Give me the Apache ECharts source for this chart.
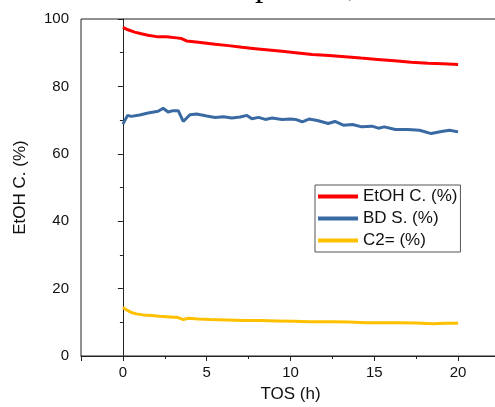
<!DOCTYPE html>
<html>
<head>
<meta charset="utf-8">
<script src="https://cdn.jsdelivr.net/npm/echarts@6/dist/echarts.min.js"></script>
<style>
  html, body { margin: 0; padding: 0; background: #fff; }
  #chart { width: 495px; height: 407px; }
</style>
</head>
<body>
<div id="chart"></div>
<script>
// time on stream (h) and values (%)
const etohTime = [0, 0.3, 0.7, 1.1, 1.5, 2.1, 2.6, 3.2, 3.5, 3.8, 4.5, 5.5, 6.3, 7.1, 7.9, 8.7, 9.5, 10.3, 11.3, 12.3, 13.25, 14.2, 15.2, 16.2, 17.2, 18.2, 19.1, 20]
const etohConv = [97.5, 96.8, 96.1, 95.6, 95.2, 94.7, 94.7, 94.4, 94.2, 93.5, 93.1, 92.5, 92.1, 91.6, 91.2, 90.8, 90.4, 90.0, 89.5, 89.2, 88.8, 88.4, 88.0, 87.6, 87.2, 86.9, 86.7, 86.5]

const bdTime = [0, 0.28, 0.5, 1.0, 1.5, 2.1, 2.4, 2.7, 3.0, 3.3, 3.6, 4.0, 4.4, 5.0, 5.5, 6.0, 6.5, 7.0, 7.4, 7.7, 8.1, 8.5, 8.9, 9.5, 10.0, 10.3, 10.7, 11.1, 11.6, 12.25, 12.65, 13.15, 13.7, 14.25, 14.85, 15.25, 15.6, 16.25, 17.0, 17.7, 18.4, 19.0, 19.5, 20]
const bdSel = [68.8, 71.4, 71.1, 71.5, 72.1, 72.6, 73.5, 72.4, 72.8, 72.8, 69.6, 71.6, 71.8, 71.2, 70.8, 71.0, 70.6, 70.9, 71.4, 70.4, 70.8, 70.2, 70.6, 70.2, 70.3, 70.2, 69.5, 70.3, 69.9, 69.0, 69.6, 68.5, 68.7, 68.0, 68.2, 67.6, 68.0, 67.2, 67.2, 67.0, 66.0, 66.6, 67.0, 66.5]

const c2Time = [0, 0.25, 0.5, 0.8, 1.2, 1.7, 2.2, 2.8, 3.3, 3.6, 3.9, 4.5, 5.2, 6.2, 7.2, 8.2, 9.2, 10.2, 11.1, 12.5, 13.5, 14.5, 15.5, 16.5, 17.5, 18.5, 19.2, 20]
const c2Sel = [14.4, 13.6, 12.9, 12.5, 12.2, 12.0, 11.8, 11.6, 11.4, 10.8, 11.2, 11.0, 10.8, 10.7, 10.5, 10.5, 10.4, 10.3, 10.2, 10.2, 10.1, 9.9, 9.9, 9.9, 9.8, 9.6, 9.7, 9.7]

const seriesNames = ['EtOH C. (%)', 'BD S. (%)', 'C2= (%)']
const seriesColors = ['#ff0000', '#3a6aa3', '#ffc000']

const zip = (xs, ys) => xs.map((x, i) => [x, ys[i]])

const font = '"Liberation Sans", Arial, sans-serif'
const chart = echarts.init(document.getElementById('chart'))

const option = {
  animation: false,
  backgroundColor: '#fff',
  // title of the original figure, cut off by the top edge (only descenders show)
  graphic: [{
    type: 'text',
    left: 195,
    top: -30,
    style: {
      text: 'Temp 1 bar, 20 h',
      font: '34px "Liberation Serif", "Times New Roman", serif',
      fill: '#000'
    }
  }],
  grid: {
    left: 81, top: 19, width: 419, height: 337,
    outerBoundsMode: 'none',
    show: true, borderColor: '#222', borderWidth: 1
  },
  legend: {
    orient: 'vertical',
    left: 315, top: 185,
    data: seriesNames,
    icon: 'rect',
    itemWidth: 40, itemHeight: 4, itemGap: 5,
    padding: [3, 3, 3, 3],
    borderColor: '#555', borderWidth: 1,
    textStyle: { fontFamily: font, fontSize: 17, color: '#111' }
  },
  xAxis: {
    type: 'value', min: -2.5, max: 22.5,
    name: 'TOS (h)', nameLocation: 'middle', nameGap: 30,
    nameTextStyle: { fontFamily: font, fontSize: 17, color: '#111' },
    axisLine: { lineStyle: { color: '#222' } },
    axisTick: { length: 5, lineStyle: { color: '#222' } },
    minorTick: { show: true, splitNumber: 2, length: 3, lineStyle: { color: '#222' } },
    splitLine: { show: false },
    axisLabel: {
      fontFamily: font, fontSize: 15, color: '#111', margin: 9,
      formatter: v => (v % 5 === 0 ? String(v) : '')
    }
  },
  yAxis: {
    type: 'value', min: 0, max: 100, interval: 20,
    name: 'EtOH C. (%)', nameLocation: 'middle', nameGap: 52,
    nameTextStyle: { fontFamily: font, fontSize: 17, color: '#111' },
    axisLine: { show: true, lineStyle: { color: '#222' } },
    axisTick: { show: true, length: 5, lineStyle: { color: '#222' } },
    minorTick: { show: true, splitNumber: 2, length: 3, lineStyle: { color: '#222' } },
    splitLine: { show: false },
    axisLabel: { fontFamily: font, fontSize: 15, color: '#111', margin: 12 }
  },
  series: [
    { name: seriesNames[0], data: zip(etohTime, etohConv) },
    { name: seriesNames[1], data: zip(bdTime, bdSel) },
    { name: seriesNames[2], data: zip(c2Time, c2Sel) }
  ].map((s, i) => ({
    ...s,
    type: 'line',
    showSymbol: false,
    color: seriesColors[i],
    lineStyle: { width: 3, color: seriesColors[i] }
  }))
}

chart.setOption(option)
</script>
</body>
</html>
